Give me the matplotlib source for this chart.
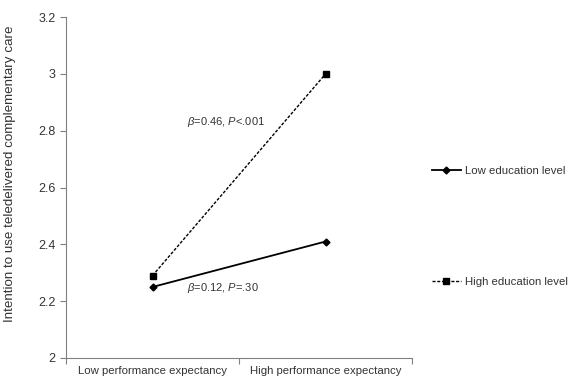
import matplotlib.pyplot as plt

plt.rcParams['font.family'] = ['Liberation Sans', 'DejaVu Sans']
plt.rcParams['mathtext.fontset'] = 'custom'
plt.rcParams['mathtext.it'] = 'Liberation Sans:italic'
plt.rcParams['mathtext.rm'] = 'Liberation Sans'

categories = ['Low performance expectancy', 'High performance expectancy']
low_edu = [2.25, 2.41]
high_edu = [2.29, 3.00]
yticks = [2, 2.2, 2.4, 2.6, 2.8, 3, 3.2]
ytick_labels = ['2', '2.2', '2.4', '2.6', '2.8', '3', '3.2']

fig = plt.figure(figsize=(5.71, 3.89), dpi=100)
ax = fig.add_axes([0.1156, 0.0797, 0.606, 0.8763])

xpos = [0.5, 1.5]
ax.plot(xpos, low_edu, color='black', lw=1.3, marker='D', markersize=3.5,
        label='Low education level')
ax.plot(xpos, high_edu, color='black', lw=1.0, ls=(0, (2.2, 1.2)), marker='s',
        markersize=4, label='High education level')

ax.text(0.7, 2.82, r'$\beta$=0.46, $P$<.001', fontsize=8, color='#333333')
ax.text(0.7, 2.235, r'$\beta$=0.12, $P$=.30', fontsize=8, color='#333333')

ax.set_xlim(0, 2)
ax.set_ylim(2, 3.2)
ax.set_yticks(yticks)
ax.set_yticklabels(ytick_labels)
ax.set_xticks([0, 1, 2])
ax.set_xticklabels([])
ax.set_xticks(xpos, minor=True)
ax.set_xticklabels(categories, minor=True)
ax.tick_params(axis='x', which='minor', length=0, pad=6)
ax.tick_params(axis='both', which='major', length=4, color='#808080',
               labelsize=9, labelcolor='#333333')
ax.tick_params(axis='x', which='minor', labelsize=8.2, labelcolor='#333333')

for s in ['top', 'right']:
    ax.spines[s].set_visible(False)
for s in ['left', 'bottom']:
    ax.spines[s].set_color('#808080')

ax.set_ylabel('Intention to use teledelivered complementary care', fontsize=9.6,
              color='#333333')
ax.yaxis.set_label_coords(-0.145, 0.54)

ax.legend(loc='center left', bbox_to_anchor=(1.027, 0.386), frameon=False,
          fontsize=8.2, labelspacing=8.9, handlelength=2.6, handletextpad=0.3,
          labelcolor='#333333')

fig.savefig('out.png', dpi=100)
